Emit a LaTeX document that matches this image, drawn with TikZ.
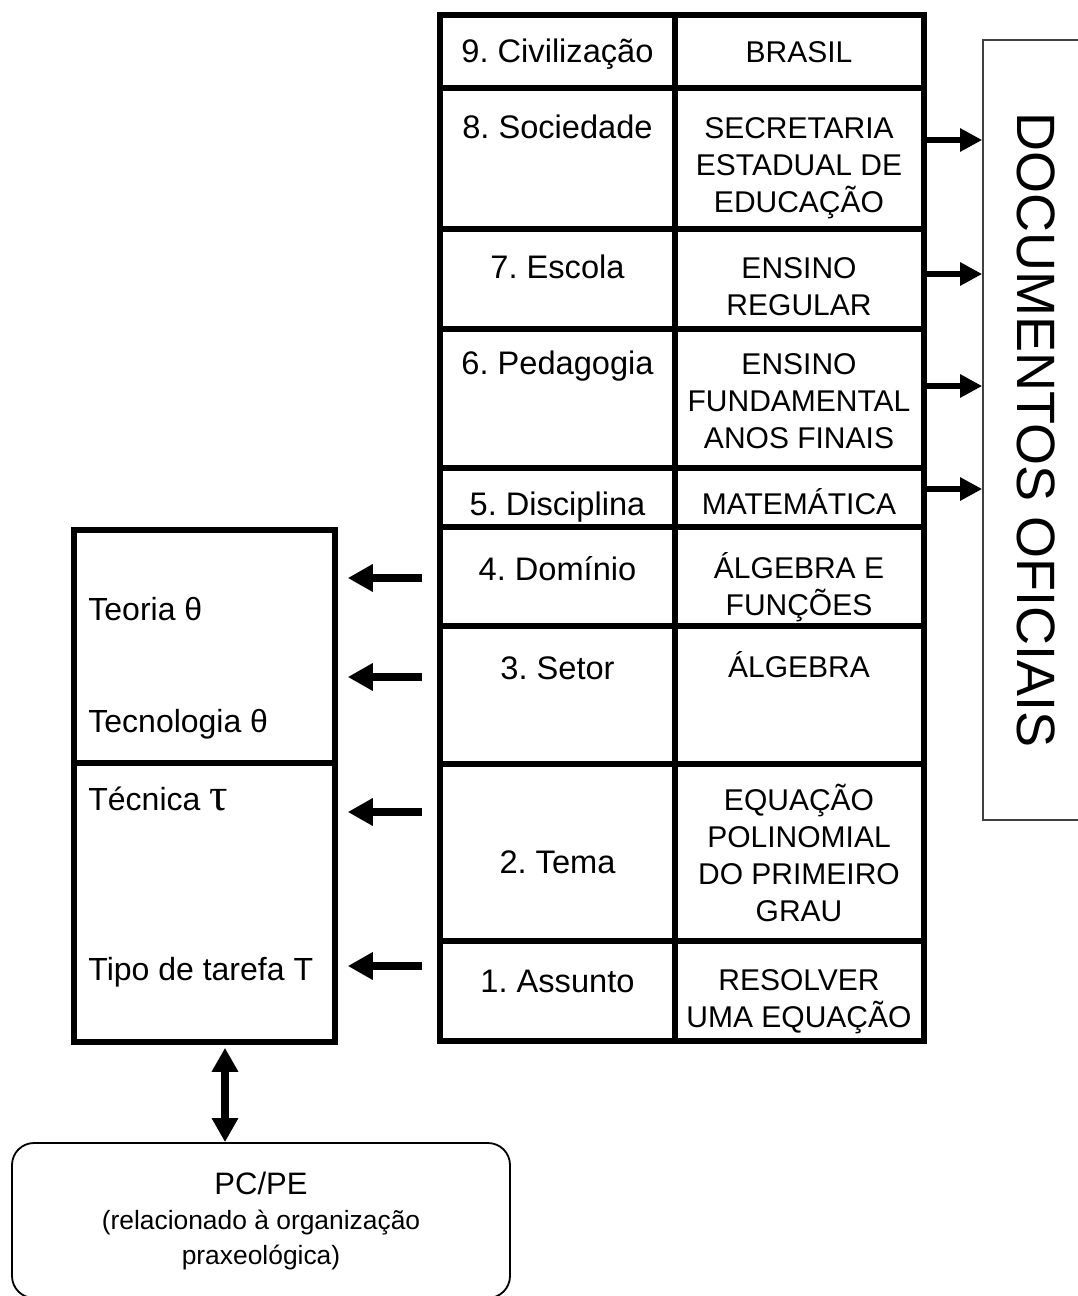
\documentclass[tikz,border=0pt]{standalone}
\usepackage{fontspec}
\setmainfont{Liberation Sans}
\newfontfamily\taufont{Liberation Serif}
\usetikzlibrary{arrows.meta,fit}
\newcommand\tstrut{\rule{0pt}{15pt}}
\frenchspacing
\begin{document}
\begin{tikzpicture}[x=0.5pt,y=-0.5pt,
  cell/.style={draw,line width=3pt,inner sep=0pt},
  tbox/.style={draw,line width=2.75pt,inner sep=0pt},
  docbox/.style={draw=black!75,line width=0.8pt,inner sep=0pt},
  pcbox/.style={draw,line width=0.9pt,rounded corners=11pt,inner sep=0pt},
  ltxt/.style={anchor=north,inner sep=0pt,font=\fontsize{16.3}{18.5}\selectfont},
  rtxt/.style={anchor=north,inner sep=0pt,align=center,font=\fontsize{15}{18.5}\selectfont},
  btxt/.style={anchor=base west,inner sep=0pt,font=\fontsize{16}{18.5}\selectfont},
  larr/.style={line width=4pt,-{Triangle[length=12.5pt,width=13pt]},shorten <=7.5pt,shorten >=5pt},
  rarr/.style={line width=2.8pt,-{Triangle[length=11pt,width=11pt]}},
  darr/.style={line width=4pt,{Triangle[length=12pt,width=12.5pt]}-{Triangle[length=12pt,width=12.5pt]},shorten <=1.5pt}
]
\useasboundingbox (0,0) rectangle (1077,1296);

% level table: left column (levels), right column (instances)
\node[cell,fit={(440,14.5)(675,88)}]    (c9L) {};
\node[cell,fit={(675,14.5)(923.5,88)}]  (c9R) {};
\node[cell,fit={(440,88)(675,228.5)}]   (c8L) {};
\node[cell,fit={(675,88)(923.5,228.5)}] (c8R) {};
\node[cell,fit={(440,228.5)(675,329)}]  (c7L) {};
\node[cell,fit={(675,228.5)(923.5,329)}](c7R) {};
\node[cell,fit={(440,329)(675,468)}]    (c6L) {};
\node[cell,fit={(675,329)(923.5,468)}]  (c6R) {};
\node[cell,fit={(440,468)(675,527)}]    (c5L) {};
\node[cell,fit={(675,468)(923.5,527)}]  (c5R) {};
\node[cell,fit={(440,527)(675,626)}]    (c4L) {};
\node[cell,fit={(675,527)(923.5,626)}]  (c4R) {};
\node[cell,fit={(440,626)(675,764)}]    (c3L) {};
\node[cell,fit={(675,626)(923.5,764)}]  (c3R) {};
\node[cell,fit={(440,764)(675,941)}]    (c2L) {};
\node[cell,fit={(675,764)(923.5,941)}]  (c2R) {};
\node[cell,fit={(440,941)(675,1041)}]   (c1L) {};
\node[cell,fit={(675,941)(923.5,1041)}] (c1R) {};

\node[ltxt] (t9L) at (557.5,32)  {\tstrut 9. Civilização};
\node[rtxt] (t9R) at (799,32)    {\tstrut BRASIL};
\node[ltxt] (t8L) at (557.5,108) {\tstrut 8. Sociedade};
\node[rtxt] (t8R) at (799,108)   {\tstrut SECRETARIA\\ESTADUAL DE\\EDUCAÇÃO};
\node[ltxt] (t7L) at (557.5,248) {\tstrut 7. Escola};
\node[rtxt] (t7R) at (799,248)   {\tstrut ENSINO\\REGULAR};
\node[ltxt] (t6L) at (557.5,344) {\tstrut 6. Pedagogia};
\node[rtxt] (t6R) at (799,344)   {\tstrut ENSINO\\FUNDAMENTAL\\ANOS FINAIS};
\node[ltxt] (t5L) at (557.5,485) {\tstrut 5. Disciplina};
\node[rtxt] (t5R) at (799,484)   {\tstrut MATEMÁTICA};
\node[ltxt] (t4L) at (557.5,550) {\tstrut 4. Domínio};
\node[rtxt] (t4R) at (799,548)   {\tstrut ÁLGEBRA E\\FUNÇÕES};
\node[ltxt] (t3L) at (557.5,649) {\tstrut 3. Setor};
\node[rtxt] (t3R) at (799,647)   {\tstrut ÁLGEBRA};
\node[ltxt] (t2L) at (557.5,843) {\tstrut 2. Tema};
\node[rtxt] (t2R) at (799,780)   {\tstrut EQUAÇÃO\\POLINOMIAL\\DO PRIMEIRO\\GRAU};
\node[ltxt] (t1L) at (557.5,962) {\tstrut 1. Assunto};
\node[rtxt] (t1R) at (799,960)   {\tstrut RESOLVER\\UMA EQUAÇÃO};

% praxeological organisation block
\node[tbox,fit={(74,530)(335,763)}]  (theo) {};
\node[tbox,fit={(74,763)(335,1042)}] (prax) {};
\node[btxt] (teoria) at (88,620) {Teoria θ};
\node[btxt] (tecno)  at (88,732) {Tecnologia θ};
\node[btxt] (tecn)   at (88,810) {Técnica {\taufont\fontsize{23}{23}\selectfont τ}};
\node[btxt] (tipo)   at (88,980) {Tipo de tarefa T};

% official documents box
\node[docbox,fit={(983,40)(1100,820)}] (docs) {};
\node[rotate=-90,inner sep=0pt,font=\fontsize{27}{27}\selectfont] (doctxt) at (1036,430) {DOCUMENTOS OFICIAIS};

% PC/PE box
\node[pcbox,fit={(12,1143)(510,1298)}] (pc) {};
\node[anchor=north,align=center,inner sep=0pt,font=\fontsize{13.2}{17.5}\selectfont] (pctxt) at (261,1164)
  {\tstrut{\fontsize{15.5}{17.5}\selectfont PC/PE}\\(relacionado à organização\\praxeológica)};

% arrow heights
\coordinate (y8) at (0,140);
\coordinate (y7) at (0,274);
\coordinate (y6) at (0,386);
\coordinate (y5) at (0,489);
\coordinate (y4) at (0,578);
\coordinate (y3) at (0,677);
\coordinate (y2) at (0,812);
\coordinate (y1) at (0,966);
\coordinate (dx) at (225,0);

\draw[rarr] (c8R.east |- y8) -- (docs.west |- y8);
\draw[rarr] (c7R.east |- y7) -- (docs.west |- y7);
\draw[rarr] (c6R.east |- y6) -- (docs.west |- y6);
\draw[rarr] (c5R.east |- y5) -- (docs.west |- y5);

\draw[larr] (c4L.west |- y4) -- (theo.east |- y4);
\draw[larr] (c3L.west |- y3) -- (theo.east |- y3);
\draw[larr] (c2L.west |- y2) -- (prax.east |- y2);
\draw[larr] (c1L.west |- y1) -- (prax.east |- y1);

\draw[darr] (dx |- prax.south) -- (dx |- pc.north);
\end{tikzpicture}
\end{document}
